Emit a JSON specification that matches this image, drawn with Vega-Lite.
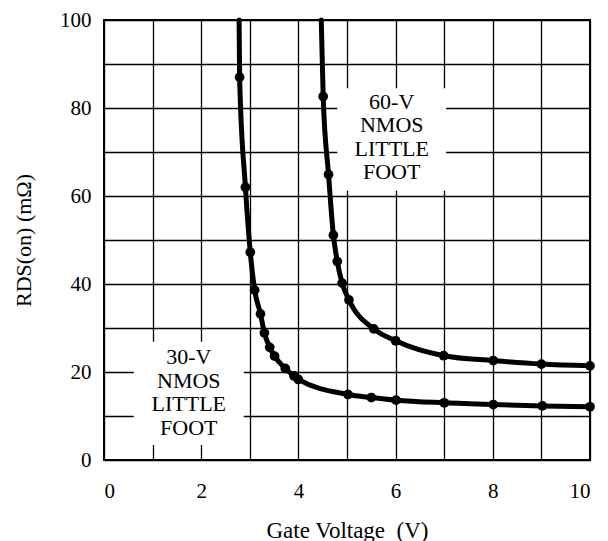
{
  "$schema": "https://vega.github.io/schema/vega-lite/v6.json",
  "width": 486,
  "height": 440,
  "autosize": "none",
  "padding": {"left": 104, "top": 20, "right": 18, "bottom": 81},
  "config": {
    "view": {"stroke": "black", "strokeWidth": 2},
    "axis": {
      "grid": true,
      "gridColor": "black",
      "gridOpacity": 1,
      "gridWidth": 1.3,
      "domain": false,
      "ticks": false,
      "labelFont": "Liberation Serif",
      "labelFontSize": 21,
      "labelColor": "black",
      "titleFont": "Liberation Serif",
      "titleFontSize": 22,
      "titleFontWeight": "normal",
      "titleColor": "black"
    }
  },
  "datasets": {
    "curves": [
      {"device": "30-V", "V": 2.78, "R": 100},
      {"device": "30-V", "V": 2.79, "R": 87},
      {"device": "30-V", "V": 2.91, "R": 62},
      {"device": "30-V", "V": 3.01, "R": 47.2},
      {"device": "30-V", "V": 3.1, "R": 38.6},
      {"device": "30-V", "V": 3.22, "R": 33.2},
      {"device": "30-V", "V": 3.3, "R": 28.9},
      {"device": "30-V", "V": 3.41, "R": 25.6},
      {"device": "30-V", "V": 3.51, "R": 23.6},
      {"device": "30-V", "V": 3.73, "R": 20.8},
      {"device": "30-V", "V": 3.91, "R": 19.1},
      {"device": "30-V", "V": 4.0, "R": 18.3},
      {"device": "30-V", "V": 5.02, "R": 14.9},
      {"device": "30-V", "V": 5.5, "R": 14.2},
      {"device": "30-V", "V": 6.01, "R": 13.6},
      {"device": "30-V", "V": 7.0, "R": 13.0},
      {"device": "30-V", "V": 8.01, "R": 12.6},
      {"device": "30-V", "V": 9.02, "R": 12.3},
      {"device": "30-V", "V": 10.0, "R": 12.1},
      {"device": "60-V", "V": 4.47, "R": 100},
      {"device": "60-V", "V": 4.51, "R": 82.6},
      {"device": "60-V", "V": 4.62, "R": 64.9},
      {"device": "60-V", "V": 4.72, "R": 51.1},
      {"device": "60-V", "V": 4.8, "R": 45.1},
      {"device": "60-V", "V": 4.9, "R": 40.2},
      {"device": "60-V", "V": 5.04, "R": 36.4},
      {"device": "60-V", "V": 5.55, "R": 29.8},
      {"device": "60-V", "V": 6.0, "R": 27.1},
      {"device": "60-V", "V": 6.99, "R": 23.7},
      {"device": "60-V", "V": 8.01, "R": 22.6},
      {"device": "60-V", "V": 9.0, "R": 21.8},
      {"device": "60-V", "V": 10.0, "R": 21.4}
    ],
    "labels": [
      {"device": "60-V", "text": "60-V\nNMOS\nLITTLE\nFOOT", "V": 5.92, "R": 81.4, "V1": 4.8, "V2": 7.04, "R1": 61.2, "R2": 84.5},
      {"device": "30-V", "text": "30-V\nNMOS\nLITTLE\nFOOT", "V": 1.745, "R": 23.4, "V1": 0.613, "V2": 2.876, "R1": 3.4, "R2": 26.9}
    ]
  },
  "layer": [
    {
      "data": {"name": "labels"},
      "mark": {"type": "rect", "fill": "white", "stroke": null},
      "encoding": {
        "x": {
          "field": "V1", "type": "quantitative",
          "scale": {"domain": [0, 10], "nice": false, "zero": false},
          "axis": {
            "values": [0, 1, 2, 3, 4, 5, 6, 7, 8, 9, 10],
            "labelExpr": "datum.value % 2 === 0 ? datum.label : ''",
            "labelPadding": 20,
            "titlePadding": 18,
            "titleFontSize": 23,
            "title": "Gate Voltage\u00a0\u00a0(V)"
          }
        },
        "x2": {"field": "V2"},
        "y": {
          "field": "R1", "type": "quantitative",
          "scale": {"domain": [0, 100], "nice": false, "zero": false},
          "axis": {
            "values": [0, 10, 20, 30, 40, 50, 60, 70, 80, 90, 100],
            "labelExpr": "datum.value % 20 === 0 ? datum.label : ''",
            "labelPadding": 13,
            "titlePadding": 24,
            "title": "RDS(on) (m\u03a9)"
          }
        },
        "y2": {"field": "R2"}
      }
    },
    {
      "data": {"name": "curves"},
      "mark": {"type": "line", "color": "black", "strokeWidth": 5, "interpolate": "monotone", "strokeCap": "round", "strokeJoin": "round"},
      "encoding": {
        "x": {"field": "V", "type": "quantitative"},
        "y": {"field": "R", "type": "quantitative"},
        "detail": {"field": "device"}
      }
    },
    {
      "data": {"name": "curves"},
      "transform": [{"filter": "datum.R < 100"}],
      "mark": {"type": "point", "filled": true, "color": "black", "opacity": 1, "size": 95},
      "encoding": {
        "x": {"field": "V", "type": "quantitative"},
        "y": {"field": "R", "type": "quantitative"}
      }
    },
    {
      "data": {"name": "labels"},
      "mark": {"type": "text", "font": "Liberation Serif", "fontSize": 22, "lineBreak": "\n", "lineHeight": 23.5, "align": "center", "baseline": "middle", "color": "black"},
      "encoding": {
        "x": {"field": "V", "type": "quantitative"},
        "y": {"field": "R", "type": "quantitative"},
        "text": {"field": "text"}
      }
    }
  ]
}
